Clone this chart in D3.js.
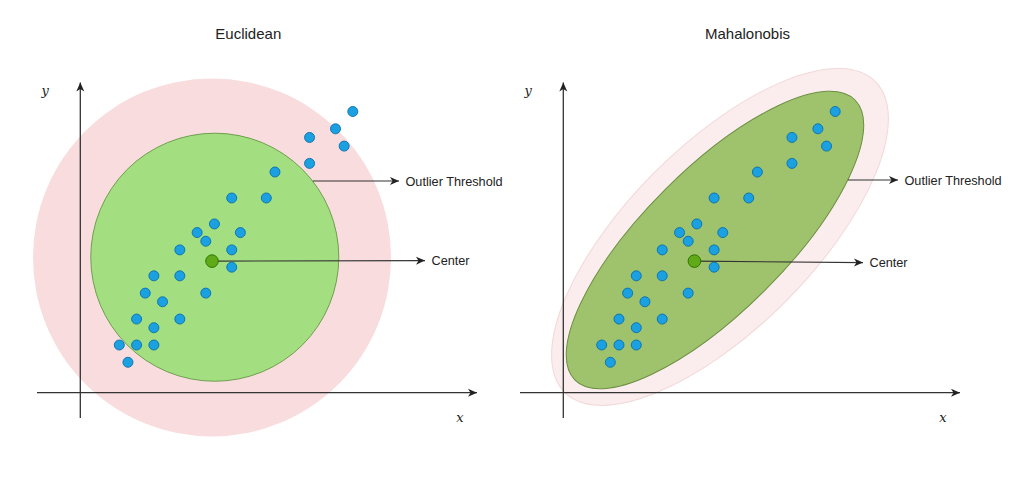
<!DOCTYPE html>
<html>
<head>
<meta charset="utf-8">
<script src="https://cdn.jsdelivr.net/npm/d3@7"></script>
<style>
  html, body { margin: 0; padding: 0; background: #fff; }
  svg { display: block; }
</style>
</head>
<body>
<svg id="chart" width="1021" height="504"></svg>
<script>
// ---- data (grid units) ----
const pointX = [27, 25, 22, 26, 22, 18, 13, 17, 11, 9, 14, 10, 7, 13, 13, 4, 7, 3, 5, 10, 2, 7, 4, 0, 2, 4, 1];
const pointY = [29, 27, 26, 25, 23, 22, 19, 19, 16, 15, 15, 14, 13, 13, 11, 10, 10, 8, 7, 8, 5, 5, 4, 2, 2, 2, 0];
const centerPoint = [10.72, 11.7];
const panelTitles = ["Euclidean", "Mahalonobis"];
const annotationLabels = ["Outlier Threshold", "Center"];
const axisLabels = ["x", "y"];
// thresholds (grid units): [cx, cy, semi-major, semi-minor]
const euclidOuter = [10.72, 12.12, 20.7, 20.7];
const euclidInner = [11.04, 12.15, 14.34, 14.34];
const mahalOuter = [13.68, 14.49, 25.4, 10.64];
const mahalInner = [13.10, 14.14, 22.9, 8.2];

const svg = d3.select("#chart");
const defs = svg.append("defs");
defs.append("marker").attr("id", "arr")
  .attr("viewBox", "-10 -6 12 12").attr("refX", 0).attr("refY", 0)
  .attr("markerWidth", 12).attr("markerHeight", 12)
  .attr("markerUnits", "userSpaceOnUse").attr("orient", "auto")
  .append("path").attr("d", "M0,0 L-9,-4 L-6.5,0 L-9,4 Z").attr("fill", "#222");

const points = pointX.map((x, i) => ({ x, y: pointY[i] }));
const unit = 8.648;

const panels = [
  { title: panelTitles[0], x0: 119.3, axisX: 80.3, shapes: [euclidOuter, euclidInner],
    fills: ["#f8dcde", "#a3df80"], strokes: ["none", "#6e9f4d"], rot: 0,
    titleX: 248.3, threshY: 181, arrowEnd: 399, centerEnd: 425, xLeft: 37, xRight: 477 },
  { title: panelTitles[1], x0: 601.7, axisX: 563.3, shapes: [mahalOuter, mahalInner],
    fills: ["#fbeced", "#9ec36c"], strokes: ["#f2d8d8", "#6b8f40"], rot: -45,
    titleX: 747.5, threshY: 180, arrowEnd: 898, centerEnd: 863, xLeft: 520, xRight: 960 }
];

const yScale = d3.scaleLinear().domain([0, 29]).range([362.3, 362.3 - 29 * unit]);
const axisY = 392.7;

panels.forEach(p => {
  const xScale = d3.scaleLinear().domain([0, 27]).range([p.x0, p.x0 + 27 * unit]);
  const g = svg.append("g");

  // title
  g.append("text").attr("x", p.titleX).attr("y", 39).attr("text-anchor", "middle")
    .attr("font-family", "Liberation Sans, Arial, sans-serif").attr("font-size", 15)
    .attr("fill", "#222").text(p.title);

  // threshold shapes
  p.shapes.forEach((s, i) => {
    const cx = xScale(s[0]), cy = yScale(s[1]);
    const rx = xScale(s[2]) - xScale(0), ry = yScale(0) - yScale(s[3]);
    g.append("ellipse").attr("cx", cx).attr("cy", cy).attr("rx", rx).attr("ry", ry)
      .attr("transform", `rotate(${p.rot},${cx},${cy})`)
      .attr("fill", p.fills[i]).attr("stroke", p.strokes[i]).attr("stroke-width", 1);
  });

  // axes
  g.append("line").attr("x1", p.xLeft).attr("x2", p.xRight).attr("y1", axisY).attr("y2", axisY)
    .attr("stroke", "#333").attr("stroke-width", 1.3).attr("marker-end", "url(#arr)");
  g.append("line").attr("x1", p.axisX).attr("x2", p.axisX).attr("y1", 418).attr("y2", 82.5)
    .attr("stroke", "#333").attr("stroke-width", 1.3).attr("marker-end", "url(#arr)");
  g.append("text").attr("x", p.axisX - 35).attr("y", 95).attr("text-anchor", "middle")
    .attr("font-family", "DejaVu Serif, Liberation Serif, serif").attr("font-style", "italic")
    .attr("font-size", 13).attr("fill", "#222").text(axisLabels[1]);
  g.append("text").attr("x", p.xRight - 17).attr("y", 422).attr("text-anchor", "middle")
    .attr("font-family", "DejaVu Serif, Liberation Serif, serif").attr("font-style", "italic")
    .attr("font-size", 13).attr("fill", "#222").text(axisLabels[0]);

  // outlier threshold arrow: start where the inner shape boundary meets y = threshY
  const inner = p.shapes[1];
  const icx = xScale(inner[0]), icy = yScale(inner[1]);
  const a = inner[2] * unit, b = inner[3] * unit, th = p.rot * Math.PI / 180;
  // solve for rightmost x on ellipse at y = threshY
  const dy = p.threshY - icy;
  let startX = icx;
  for (let dx = 0; dx < 400; dx += 0.25) {
    const u = dx * Math.cos(th) + dy * Math.sin(th);
    const v = -dx * Math.sin(th) + dy * Math.cos(th);
    if ((u * u) / (a * a) + (v * v) / (b * b) > 1) { startX = icx + dx; break; }
  }
  g.append("line").attr("x1", startX).attr("x2", p.arrowEnd).attr("y1", p.threshY).attr("y2", p.threshY)
    .attr("stroke", "#333").attr("stroke-width", 1.1).attr("marker-end", "url(#arr)");
  g.append("text").attr("x", p.arrowEnd + 6.5).attr("y", p.threshY + 4.5)
    .attr("font-family", "Liberation Sans, Arial, sans-serif").attr("font-size", 12.7)
    .attr("fill", "#222").text(annotationLabels[0]);

  // center arrow
  const ccx = xScale(centerPoint[0]), ccy = yScale(centerPoint[1]);
  g.append("line").attr("x1", ccx).attr("x2", p.centerEnd).attr("y1", ccy).attr("y2", ccy + (p.rot ? 1.5 : -0.5))
    .attr("stroke", "#333").attr("stroke-width", 1.1).attr("marker-end", "url(#arr)");
  g.append("text").attr("x", p.centerEnd + 6.5).attr("y", ccy + 4.5 + (p.rot ? 1.5 : -0.5))
    .attr("font-family", "Liberation Sans, Arial, sans-serif").attr("font-size", 12.7)
    .attr("fill", "#222").text(annotationLabels[1]);

  // points
  g.selectAll("circle.pt").data(points).enter().append("circle").attr("class", "pt")
    .attr("cx", d => xScale(d.x)).attr("cy", d => yScale(d.y)).attr("r", 5)
    .attr("fill", "#1ba1e2").attr("stroke", "#0b6ea8").attr("stroke-width", 0.9);

  // center point
  g.append("circle").attr("cx", ccx).attr("cy", ccy).attr("r", 6.3)
    .attr("fill", "#60a917").attr("stroke", "#2d7600").attr("stroke-width", 1);
});
</script>
</body>
</html>
